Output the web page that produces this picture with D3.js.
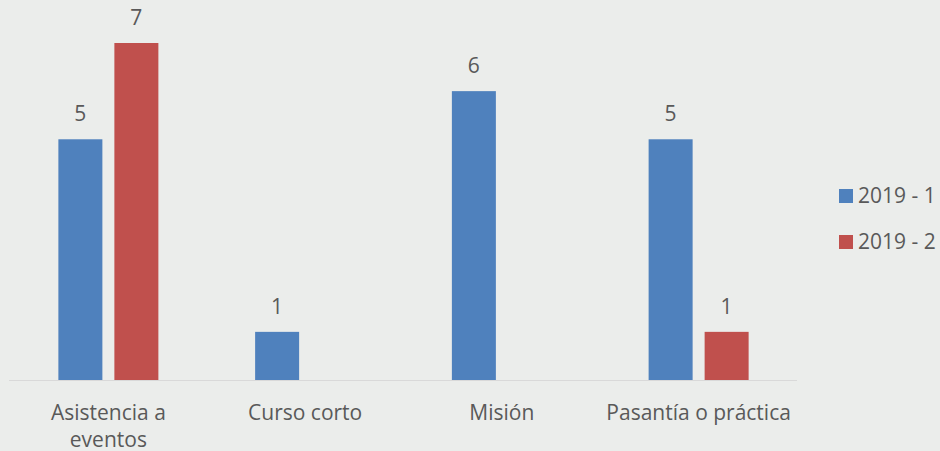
<!DOCTYPE html>
<html>
<head>
<meta charset="utf-8">
<script src="https://cdn.jsdelivr.net/npm/d3@7"></script>
<style>
  body { margin: 0; background: #ebedeb; }
  text { font-family: "Open Sans", sans-serif; fill: #595959; }
</style>
</head>
<body>
<div id="chart"></div>
<script>
var WIDTH = 940, HEIGHT = 451;
var FONT = "21px";

var categories = [ ["Asistencia a", "eventos"], ["Curso corto"], ["Misión"], ["Pasantía o práctica"] ];
var series = [ "2019 - 1", "2019 - 2" ];
var values_s1 = [ 5, 1, 6, 5 ];
var values_s2 = [ 7, null, null, 1 ];
var colours = [ "#4f81bd", "#c0504d" ];

var svg = d3.select("#chart").append("svg")
    .attr("width", WIDTH)
    .attr("height", HEIGHT);

svg.append("rect").attr("width", WIDTH).attr("height", HEIGHT).attr("fill", "#ebedeb");

var x0 = d3.scaleBand()
    .domain(d3.range(categories.length))
    .range([10, 797]);

var bw = x0.bandwidth();
var x1 = d3.scaleBand()
    .domain(series)
    .range([bw / 2 - 50, bw / 2 + 50])
    .paddingInner(12 / 56);

var y = d3.scaleLinear()
    .domain([0, 7])
    .range([380, 43]);

var rows = [];
categories.forEach(function (c, i) {
    [values_s1, values_s2].forEach(function (vals, j) {
        if (vals[i] != null) rows.push({ cat: i, s: j, v: vals[i] });
    });
});

var chart = svg.append("g");

chart.selectAll("rect.bar")
    .data(rows).enter()
    .append("rect")
    .attr("class", "bar")
    .attr("x", function (d) { return x0(d.cat) + x1(series[d.s]); })
    .attr("width", x1.bandwidth())
    .attr("y", function (d) { return y(d.v); })
    .attr("height", function (d) { return y(0) - y(d.v); })
    .attr("fill", function (d) { return colours[d.s]; });

chart.selectAll("text.val")
    .data(rows).enter()
    .append("text")
    .attr("class", "val")
    .attr("x", function (d) { return x0(d.cat) + x1(series[d.s]) + x1.bandwidth() / 2; })
    .attr("y", function (d) { return y(d.v) - 18; })
    .attr("text-anchor", "middle")
    .style("font-size", FONT)
    .text(function (d) { return d.v; });

// baseline
chart.append("line")
    .attr("x1", 9).attr("x2", 797)
    .attr("y1", y(0) + 0.5).attr("y2", y(0) + 0.5)
    .attr("stroke", "#d9d9d9").attr("stroke-width", 1);

// category labels
var cl = chart.selectAll("text.cat")
    .data(categories).enter()
    .append("text")
    .attr("class", "cat")
    .attr("text-anchor", "middle")
    .style("font-size", FONT)
    .attr("x", function (d, i) { return x0(i) + bw / 2; })
    .attr("y", 420);

cl.selectAll("tspan")
    .data(function (d) { return d; }).enter()
    .append("tspan")
    .attr("x", function () { return d3.select(this.parentNode).attr("x"); })
    .attr("dy", function (d, i) { return i ? 27 : 0; })
    .text(function (d) { return d; });

// legend
var legend = svg.append("g").selectAll("g")
    .data(series).enter()
    .append("g")
    .attr("transform", function (d, i) { return "translate(839," + (189 + i * 46) + ")"; });

legend.append("rect")
    .attr("width", 14).attr("height", 14)
    .attr("fill", function (d, i) { return colours[i]; });

legend.append("text")
    .attr("x", 19).attr("y", 14)
    .style("font-size", FONT)
    .text(function (d) { return d; });
</script>
</body>
</html>
